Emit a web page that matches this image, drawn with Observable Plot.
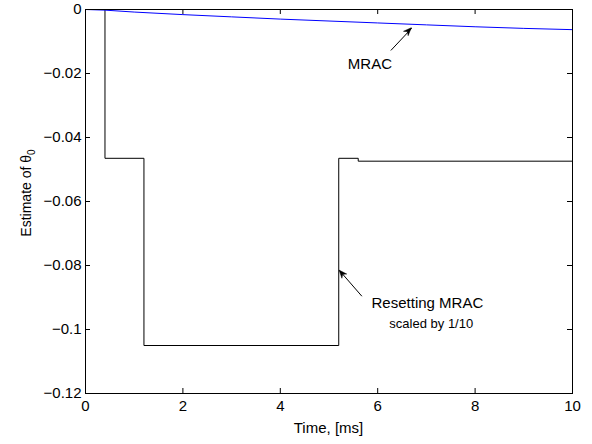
<!DOCTYPE html>
<html>
<head>
<meta charset="utf-8">
<script src="https://cdn.jsdelivr.net/npm/d3@7"></script>
<script src="https://cdn.jsdelivr.net/npm/@observablehq/plot@0.6"></script>
<style>
  html, body { margin: 0; padding: 0; background: #fff; }
  #chart { width: 592px; height: 444px; }
  svg { font-family: "Liberation Sans", Arial, Helvetica, sans-serif; }
</style>
</head>
<body>
<div id="chart"></div>
<script>
// ---- data ----
const xTicks = [0, 2, 4, 6, 8, 10];
const yTicks = [0, -0.02, -0.04, -0.06, -0.08, -0.1, -0.12];
const xDomain = [0, 10];
const yDomain = [-0.12, 0];

// MRAC estimate (blue)
const mracT = [0, 0.4, 1, 2, 3, 4, 5, 6, 7, 8, 9, 10];
const mracV = [0, -0.0002, -0.0008, -0.0016, -0.0023, -0.0030, -0.0036, -0.0042, -0.0048, -0.0054, -0.0059, -0.0063];

// Resetting MRAC estimate scaled by 1/10 (black, piecewise constant)
const resetT = [0, 0.4, 1.2, 5.2, 5.6, 10];
const resetV = [0, -0.0465, -0.105, -0.0465, -0.0474, -0.0474];

// annotations
const labelTexts = ["MRAC", "Resetting MRAC", "scaled by 1/10"];
const labelX = [5.84, 7.02, 7.10];
const labelY = [-0.0170, -0.0918, -0.0981];
const labelSize = [15, 15, 13];
const arrowX1 = [6.27, 5.675];
const arrowY1 = [-0.0128, -0.0896];
const arrowX2 = [6.70, 5.217];
const arrowY2 = [-0.00584, -0.0816];

const xLabel = "Time, [ms]";
const yLabelMain = "Estimate of θ";
const yLabelSub = "0";

// ---- build tables ----
const mrac = mracT.map((t, i) => ({t, v: mracV[i]}));
const reset = resetT.map((t, i) => ({t, v: resetV[i]}));
const labels = labelTexts.map((s, i) => ({s, x: labelX[i], y: labelY[i], size: labelSize[i]}));
const arrows = arrowX1.map((x1, i) => ({x1, y1: arrowY1[i], x2: arrowX2[i], y2: arrowY2[i]}));

const W = 592, H = 444;
const mL = 85, mR = 20, mT = 9, mB = 51;

const plot = Plot.plot({
  width: W, height: H,
  marginLeft: mL, marginRight: mR, marginTop: mT, marginBottom: mB,
  style: {fontFamily: "Liberation Sans, Arial, Helvetica, sans-serif", fontSize: "15px", background: "white", color: "black"},
  x: {domain: xDomain, label: null},
  y: {domain: yDomain, label: null},
  marks: [
    Plot.line(reset, {x: "t", y: "v", curve: "step-after", stroke: "black", strokeWidth: 1}),
    Plot.line(mrac, {x: "t", y: "v", stroke: "#0000ff", strokeWidth: 1}),
    Plot.frame({stroke: "black", strokeWidth: 1}),
    // inward ticks: bottom, top
    Plot.ruleX(xTicks, {x: d => d, y1: yDomain[0], y2: yDomain[0], insetBottom: 5, stroke: "black"}),
    Plot.ruleX(xTicks, {x: d => d, y1: yDomain[1], y2: yDomain[1], insetBottom: -5, stroke: "black"}),
    // inward ticks: left, right
    Plot.ruleY(yTicks, {y: d => d, x1: xDomain[0], x2: xDomain[0], insetRight: -5, stroke: "black"}),
    Plot.ruleY(yTicks, {y: d => d, x1: xDomain[1], x2: xDomain[1], insetLeft: -5, stroke: "black"}),
    Plot.axisX({ticks: xTicks, tickSize: 0, tickPadding: 7, label: null, fontSize: 15, tickFormat: d3.format("~g")}),
    Plot.axisY({ticks: yTicks, tickSize: 0, tickPadding: 4, label: null, fontSize: 15, tickFormat: d3.format("~g")}),
    Plot.link(arrows, {x1: "x1", y1: "y1", x2: "x2", y2: "y2", stroke: "black", strokeWidth: 1}),
    Plot.text(labels, {x: "x", y: "y", text: "s", fontSize: "size", fill: "black"})
  ]
});

document.getElementById("chart").appendChild(plot);

const svg = d3.select(plot);
const sx = plot.scale("x"), sy = plot.scale("y");

// filled arrowheads at the arrow tips, positioned through the plot's scales
arrows.forEach(a => {
  const x1 = sx.apply(a.x1), y1 = sy.apply(a.y1);
  const x2 = sx.apply(a.x2), y2 = sy.apply(a.y2);
  const ang = Math.atan2(y2 - y1, x2 - x1);
  const L = 8, Wd = 3.2, N = 5.5;
  const ux = Math.cos(ang), uy = Math.sin(ang);
  const px = -uy, py = ux;
  const pts = [
    [x2, y2],
    [x2 - L * ux + Wd * px, y2 - L * uy + Wd * py],
    [x2 - N * ux, y2 - N * uy],
    [x2 - L * ux - Wd * px, y2 - L * uy - Wd * py]
  ];
  svg.append("path")
    .attr("d", "M" + pts.map(p => p.join(",")).join("L") + "Z")
    .attr("fill", "black").attr("stroke", "black").attr("stroke-width", 0.5);
});

// axis titles as real text
svg.append("text")
  .attr("x", mL + (W - mL - mR) / 2)
  .attr("y", H - 11)
  .attr("text-anchor", "middle")
  .attr("font-size", 15)
  .attr("fill", "black")
  .text(xLabel);
const yl = svg.append("text")
  .attr("transform", `translate(30.5, 193) rotate(-90)`)
  .attr("text-anchor", "middle")
  .attr("font-size", 14)
  .attr("fill", "black");
yl.append("tspan").text(yLabelMain);
yl.append("tspan").attr("font-size", 10).attr("dy", 4).text(yLabelSub);
</script>
</body>
</html>
